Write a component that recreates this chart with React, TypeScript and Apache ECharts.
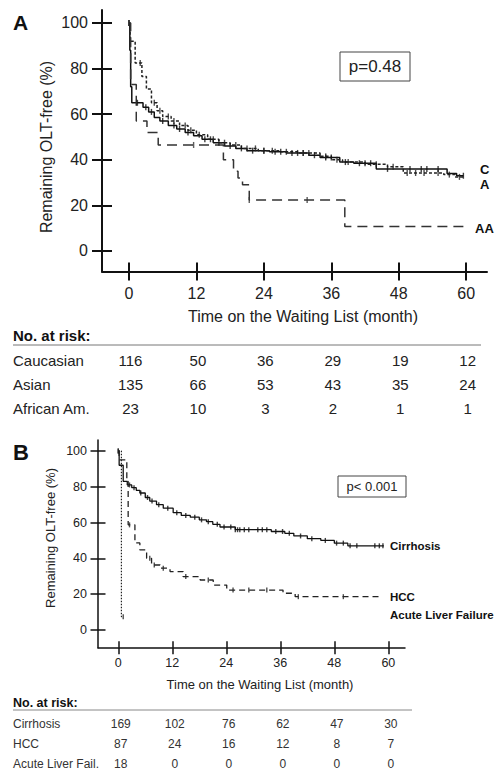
import React, { useEffect, useRef } from "react";
import * as echarts from "echarts";

const FONT = '"Liberation Sans", Arial, Helvetica, sans-serif';

// ---------- shared ticks ----------
const monthTicks = [0, 12, 24, 36, 48, 60];
const percentTicks = [0, 20, 40, 60, 80, 100];

// ---------- Panel A: Kaplan–Meier steps [month, % OLT-free] ----------
const caucasianSteps = [
  [0, 100], [0.15, 88], [0.3, 72], [0.5, 65], [2.5, 63], [3.5, 61], [4.5, 58.5], [5.5, 57],
  [7, 55], [8.5, 53.5], [10, 52], [11.5, 50.5], [13, 49], [15, 47.5], [17, 46], [19, 45],
  [21, 44], [25, 43.5], [28, 43], [32, 42], [34, 41], [37.5, 39], [40, 38.5], [44, 36],
  [56.6, 34], [58.3, 33], [59.5, 33],
];
const asianSteps = [
  [0, 100], [0.2, 92], [1.1, 82.5], [2.3, 76.5], [3.1, 71], [4, 65], [5, 61.5], [6, 59],
  [7.5, 57], [9, 55], [10.5, 53], [12, 51], [14, 49], [16, 47.5], [18, 46.5], [20, 45],
  [23, 44], [27, 43.5], [30, 43], [34, 41.5], [36, 40], [38, 39], [42, 38], [46, 37],
  [48.8, 34.2], [56, 33.5], [58, 32.5], [59.5, 32.5],
];
const africanAmSteps = [
  [0, 100], [0.3, 73], [1.3, 57], [3.2, 52], [5.2, 46.5], [16.8, 40], [18.6, 35], [19.4, 32],
  [20.2, 29], [21.4, 22.4], [38.4, 10.7], [59.8, 10.7],
];
const caucasianCensored = [0, 1.5, 3, 4, 6, 8, 9, 10.5, 13.5, 14.5, 16, 18, 20, 22, 24, 26, 27, 29, 30, 31, 33, 35, 36, 38.5, 41, 42, 43, 46, 50, 52, 53, 55, 59.5];
const asianCensored = [0, 2, 4.5, 5.5, 7, 8, 10, 11, 12.5, 15, 17, 19, 21, 22.5, 24, 25.5, 28, 31, 32, 35, 37, 39, 44, 47, 49.5, 51, 52.5, 55, 57, 58.8];
const africanAmCensored = [0, 11.5, 21.4, 31.7];

const riskGroupsA = ["Caucasian", "Asian", "African Am."];
const riskCaucasian = [116, 50, 36, 29, 19, 12];
const riskAsian = [135, 66, 53, 43, 35, 24];
const riskAfricanAm = [23, 10, 3, 2, 1, 1];

// ---------- Panel B ----------
const cirrhosisSteps = [
  [0, 100], [0.2, 92], [1.1, 83], [2, 81], [3, 79.5], [4, 78], [4.8, 76.5], [6, 74], [7, 72],
  [8.5, 70], [10, 68], [12.2, 65.5], [14, 64], [16, 63], [18, 61.5], [19.6, 60.5], [21, 59],
  [22.6, 57.5], [26, 56], [34, 55], [37, 54], [39, 52.5], [42, 51], [45, 50], [48, 48.5],
  [51, 47], [59, 47],
];
const hccSteps = [
  [0, 100], [0.2, 95], [1.9, 83], [2.2, 58.7], [3.7, 48.6], [4.8, 44.7], [6.3, 40], [7.4, 36.3],
  [9.3, 34.5], [11.5, 32.6], [14.4, 29.8], [18.2, 27.9], [21.1, 25.1], [24.1, 22.3],
  [36.6, 20.5], [39.3, 18.6], [58.5, 18.6],
];
const alfSteps = [[0, 100], [0.7, 7.4], [1.1, 7.4]];
const cirrhosisCensored = [0, 2.5, 3.5, 5, 6.5, 7.5, 9, 11, 13, 15, 17, 18.5, 20, 22, 23.5, 25, 26, 26.5, 27, 28, 29, 31, 32, 33, 35, 36.5, 38, 40.5, 43, 46, 48.5, 50, 51.5, 53, 57, 58, 58.8];
const hccCensored = [0, 2.5, 7, 8, 10, 15, 20, 25.5, 29, 33, 40, 50];
const alfCensored = [1.1];

const riskGroupsB = ["Cirrhosis", "HCC", "Acute Liver Fail."];
const riskCirrhosis = [169, 102, 76, 62, 47, 30];
const riskHcc = [87, 24, 16, 12, 8, 7];
const riskAlf = [18, 0, 0, 0, 0, 0];

function stepAt(steps: number[][], t: number) {
  let v = steps[0][1];
  for (const [x, y] of steps) {
    if (x <= t) v = y;
    else break;
  }
  return v;
}

function lineSeries(steps: number[][], ai: number, color: string, width: number, dash: any) {
  return {
    type: "line", xAxisIndex: ai, yAxisIndex: ai, data: steps, step: "end",
    showSymbol: false, symbol: "none", silent: true, z: 3,
    lineStyle: { color, width, type: dash },
  };
}
function censorSeries(steps: number[][], times: number[], ai: number, color: string, h: number) {
  return {
    type: "scatter", xAxisIndex: ai, yAxisIndex: ai, silent: true, z: 4,
    data: times.map((t) => [t, stepAt(steps, t)]),
    symbol: "rect", symbolSize: [1.4, h], itemStyle: { color },
  };
}

function axesPair(dim: "x" | "y", gridIndex: number, min: number, max: number, ticks: number[],
  fontSize: number, margin: number, tickLen: number, lw: number) {
  const common: any = {
    type: "value", gridIndex, min, max, splitLine: { show: false },
    position: dim === "x" ? "bottom" : "left",
  };
  const tickStyle = { color: "#111", width: lw };
  return [
    {
      ...common,
      axisLine: { show: true, onZero: false, lineStyle: { color: "#111", width: lw } },
      axisTick: { show: true, customValues: ticks, length: tickLen, inside: false, lineStyle: tickStyle },
      axisLabel: { show: true, customValues: ticks, margin, fontSize, color: "#222", fontFamily: FONT },
    },
    {
      ...common,
      axisLine: { show: false, onZero: false },
      axisTick: { show: true, customValues: ticks, length: tickLen, inside: true, lineStyle: tickStyle },
      axisLabel: { show: false },
    },
  ];
}

function txt(text: string, x: number, y: number, size: number, o: any = {}) {
  return {
    type: "text", x, y, silent: true, rotation: o.rotation || 0, z: 10,
    style: {
      text, fill: o.fill || "#222", align: o.align || "left", verticalAlign: "middle",
      font: `${o.bold ? "bold " : ""}${size}px ${FONT}`,
    },
  };
}

export default function App() {
  const ref = useRef<HTMLDivElement>(null);
  useEffect(() => {
    const chart = echarts.init(ref.current!, null, { renderer: "svg" });
    const option: any = {
      animation: false,
      backgroundColor: "#fff",
      grid: [
        { left: 102, top: 10, width: 385, height: 261.5 },
        { left: 98, top: 440, width: 307, height: 207.7 },
      ],
      xAxis: [
        ...axesPair("x", 0, -4.8, 63.7, monthTicks, 16, 13.5, 9, 2),
        ...axesPair("x", 1, -4.5, 63.7, monthTicks, 12.5, 9, 6.5, 1.5),
      ],
      yAxis: [
        ...axesPair("y", 0, -9, 105.7, percentTicks, 16, 14, 10, 2),
        ...axesPair("y", 1, -9.9, 106.1, percentTicks, 12.5, 11, 7.5, 1.5),
      ],
      series: [
        lineSeries(caucasianSteps, 0, "#111", 1.5, "solid"),
        lineSeries(asianSteps, 0, "#222", 1.5, [3, 2]),
        lineSeries(africanAmSteps, 0, "#333", 1.5, [10, 6]),
        censorSeries(caucasianSteps, caucasianCensored, 0, "#111", 6),
        censorSeries(asianSteps, asianCensored, 0, "#222", 6),
        censorSeries(africanAmSteps, africanAmCensored, 0, "#333", 6),
        lineSeries(cirrhosisSteps, 2, "#111", 1.3, "solid"),
        lineSeries(hccSteps, 2, "#222", 1.3, [6, 4]),
        lineSeries(alfSteps, 2, "#222", 1.2, [1.5, 1.5]),
        censorSeries(cirrhosisSteps, cirrhosisCensored, 2, "#111", 5),
        censorSeries(hccSteps, hccCensored, 2, "#222", 5),
        censorSeries(alfSteps, alfCensored, 2, "#222", 5),
      ],
    };
    chart.setOption(option);

    const px = (ai: number, t: number) => chart.convertToPixel({ xAxisIndex: ai }, t) as number;
    const g: any[] = [];

    // Panel A annotations
    g.push(txt("A", 13, 22, 21, { bold: true, fill: "#111" }));
    g.push(txt("Remaining OLT-free (%)", 46, 147, 16, { align: "center", rotation: Math.PI / 2 }));
    g.push(txt("Time on the Waiting List (month)", 303, 316.5, 16, { align: "center" }));
    g.push({ type: "rect", silent: true, shape: { x: 340, y: 52, width: 70, height: 29 }, style: { fill: "none", stroke: "#444", lineWidth: 1 } });
    g.push(txt("p=0.48", 375, 66.5, 17, { align: "center" }));
    g.push(txt("C", 480, 169, 13, { bold: true, fill: "#111" }));
    g.push(txt("A", 480, 184, 13, { bold: true, fill: "#111" }));
    g.push(txt("AA", 475, 228, 13, { bold: true, fill: "#111" }));
    g.push(txt("No. at risk:", 13, 335, 15, { bold: true, fill: "#111" }));
    g.push({ type: "line", silent: true, shape: { x1: 13, y1: 345, x2: 481, y2: 345 }, style: { stroke: "#777", lineWidth: 1 } });
    const rowsA = [riskCaucasian, riskAsian, riskAfricanAm];
    const rowYA = [360, 384.5, 408];
    rowsA.forEach((row, i) => {
      g.push(txt(riskGroupsA[i], 13, rowYA[i], 15));
      row.forEach((v, j) => g.push(txt(String(v), px(0, monthTicks[j]) + 1.5, rowYA[i], 15, { align: "center" })));
    });

    // Panel B annotations
    g.push(txt("B", 13, 452, 22, { bold: true, fill: "#111" }));
    g.push(txt("Remaining OLT-free (%)", 50, 538, 13, { align: "center", rotation: Math.PI / 2 }));
    g.push(txt("Time on the Waiting List (month)", 260, 684, 13, { align: "center" }));
    g.push({ type: "rect", silent: true, shape: { x: 338, y: 476, width: 68, height: 21 }, style: { fill: "none", stroke: "#444", lineWidth: 1 } });
    g.push(txt("p< 0.001", 372, 486.5, 13, { align: "center" }));
    g.push(txt("Cirrhosis", 390, 546, 11.5, { bold: true, fill: "#111" }));
    g.push(txt("HCC", 390, 597, 11.5, { bold: true, fill: "#111" }));
    g.push(txt("Acute Liver Failure", 390, 615, 11.5, { bold: true, fill: "#111" }));
    g.push(txt("No. at risk:", 13, 702.7, 12.5, { bold: true, fill: "#111" }));
    g.push({ type: "line", silent: true, shape: { x1: 13, y1: 710, x2: 412, y2: 710 }, style: { stroke: "#888", lineWidth: 1 } });
    const rowsB = [riskCirrhosis, riskHcc, riskAlf];
    const rowYB = [723.5, 744, 764.3];
    rowsB.forEach((row, i) => {
      g.push(txt(riskGroupsB[i], 13, rowYB[i], 12, { fill: "#333" }));
      row.forEach((v, j) => g.push(txt(String(v), px(2, monthTicks[j]) + 2.5, rowYB[i], 12, { align: "center", fill: "#333" })));
    });

    chart.setOption({ graphic: g });
    return () => chart.dispose();
  }, []);
  return (
    <div
      ref={ref}
      style={{ position: "fixed", left: 0, top: 0, width: 495, height: 773, background: "#fff" }}
    />
  );
}
